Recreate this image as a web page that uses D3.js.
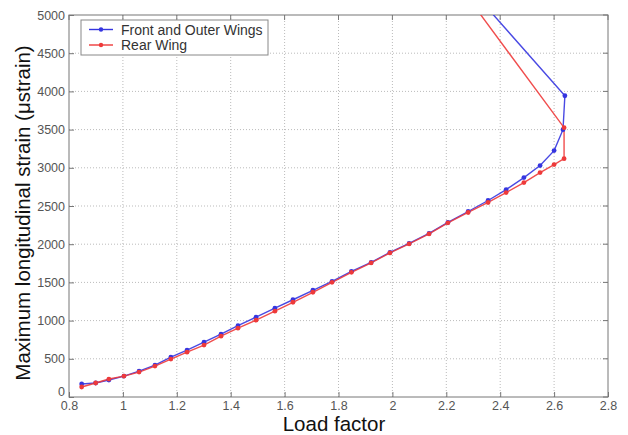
<!DOCTYPE html>
<html>
<head>
<meta charset="utf-8">
<script src="https://cdn.jsdelivr.net/npm/d3@7"></script>
<style>
  html, body { margin: 0; padding: 0; background: #fff; }
  svg { display: block; }
</style>
</head>
<body>
<svg id="chart" width="628" height="435"></svg>
<script>
const seriesNames = ["Front and Outer Wings", "Rear Wing"];
const seriesColors = ["#3535e0", "#ee3a3a"];

const frontX = [0.847, 0.899, 0.948, 1.004, 1.060, 1.119, 1.178, 1.238, 1.301, 1.364,
  1.427, 1.494, 1.564, 1.631, 1.705, 1.776, 1.848, 1.921, 1.991, 2.062,
  2.136, 2.206, 2.281, 2.355, 2.422, 2.488, 2.548, 2.600, 2.633, 2.640, 2.200];
const frontY = [170, 183, 222, 274, 339, 418, 522, 614, 718, 822,
  933, 1044, 1162, 1273, 1397, 1514, 1645, 1762, 1893, 2010,
  2141, 2285, 2428, 2572, 2715, 2872, 3029, 3225, 3499, 3943, 5700];

const rearX = [0.847, 0.899, 0.948, 1.004, 1.060, 1.119, 1.178, 1.238, 1.301, 1.364,
  1.427, 1.494, 1.564, 1.631, 1.705, 1.776, 1.848, 1.921, 1.991, 2.062,
  2.136, 2.206, 2.281, 2.355, 2.422, 2.488, 2.548, 2.600, 2.637, 2.637, 2.200];
const rearY = [131, 183, 235, 274, 326, 405, 496, 587, 679, 796,
  901, 1005, 1123, 1240, 1371, 1501, 1632, 1755, 1886, 2004,
  2134, 2280, 2415, 2546, 2676, 2807, 2937, 3042, 3120, 3525, 5613];

const xTicks = [0.8, 1, 1.2, 1.4, 1.6, 1.8, 2, 2.2, 2.4, 2.6, 2.8];
const yTicks = [0, 500, 1000, 1500, 2000, 2500, 3000, 3500, 4000, 4500, 5000];
const xLabel = "Load factor";
const yLabel = "Maximum longitudinal strain (\u03bcstrain)";

const svg = d3.select("#chart");
const L = 69, R = 608, T = 15, B = 397;
const x = d3.scaleLinear().domain([0.8, 2.8]).range([L, R]);
const y = d3.scaleLinear().domain([0, 5000]).range([B, T]);

// grid
const grid = svg.append("g");
grid.selectAll(".gx").data(xTicks.slice(1, -1)).enter().append("line")
  .attr("x1", d => x(d)).attr("x2", d => x(d)).attr("y1", T).attr("y2", B)
  .attr("stroke", "#bbb").attr("stroke-width", 1).attr("stroke-dasharray", "1,2");
grid.selectAll(".gy").data(yTicks.slice(1, -1)).enter().append("line")
  .attr("y1", d => y(d)).attr("y2", d => y(d)).attr("x1", L).attr("x2", R)
  .attr("stroke", "#bbb").attr("stroke-width", 1).attr("stroke-dasharray", "1,2");

// axes
const tickFont = "Liberation Sans, Arial, sans-serif";
const xAxis = svg.append("g").attr("transform", `translate(0,${B})`)
  .call(d3.axisBottom(x).tickValues(xTicks).tickSize(-5).tickPadding(4).tickFormat(d3.format("")));
const yAxis = svg.append("g").attr("transform", `translate(${L},0)`)
  .call(d3.axisLeft(y).tickValues(yTicks).tickSize(-5).tickPadding(4).tickFormat(d3.format("")));
[xAxis, yAxis].forEach(a => {
  a.select(".domain").remove();
  a.selectAll(".tick line").attr("stroke", "#777");
  a.selectAll(".tick text").attr("fill", "#555").style("font-family", tickFont).style("font-size", "12.5px");
});
yAxis.selectAll(".tick text").filter(d => d === 0).attr("dy", "-0.12em");

// top and right ticks
svg.append("g").selectAll("line").data(xTicks).enter().append("line")
  .attr("x1", d => x(d)).attr("x2", d => x(d)).attr("y1", T).attr("y2", T + 5).attr("stroke", "#777");
svg.append("g").selectAll("line").data(yTicks).enter().append("line")
  .attr("x1", R).attr("x2", R - 5).attr("y1", d => y(d)).attr("y2", d => y(d)).attr("stroke", "#777");

// frame
svg.append("rect").attr("x", L).attr("y", T).attr("width", R - L).attr("height", B - T)
  .attr("fill", "none").attr("stroke", "#777").attr("stroke-width", 1);

// clip
svg.append("clipPath").attr("id", "clip").append("rect")
  .attr("x", L).attr("y", T).attr("width", R - L).attr("height", B - T);

const series = [
  { xs: frontX, ys: frontY, color: seriesColors[0] },
  { xs: rearX, ys: rearY, color: seriesColors[1] }
];
const line = d3.line().x(d => x(d[0])).y(d => y(d[1]));
const plot = svg.append("g").attr("clip-path", "url(#clip)");
series.forEach(s => {
  const pts = s.xs.map((v, i) => [v, s.ys[i]]);
  plot.append("path").datum(pts).attr("d", line)
    .attr("fill", "none").attr("stroke", s.color).attr("stroke-width", 1.4).attr("opacity", 0.9);
});
series.forEach(s => {
  const pts = s.xs.map((v, i) => [v, s.ys[i]]);
  plot.selectAll(null).data(pts.filter(p => p[1] <= 5000)).enter().append("circle")
    .attr("cx", d => x(d[0])).attr("cy", d => y(d[1])).attr("r", 2.4)
    .attr("fill", s.color);
});

// legend
const lg = svg.append("g");
lg.append("rect").attr("x", 81).attr("y", 20).attr("width", 187).attr("height", 35)
  .attr("fill", "#fff").attr("stroke", "#888").attr("stroke-width", 1);
seriesNames.forEach((n, i) => {
  const yy = 29.5 + i * 15.5;
  lg.append("line").attr("x1", 89).attr("x2", 113).attr("y1", yy).attr("y2", yy)
    .attr("stroke", seriesColors[i]).attr("stroke-width", 1.4);
  lg.append("circle").attr("cx", 101).attr("cy", yy).attr("r", 2.2).attr("fill", seriesColors[i]);
  lg.append("text").attr("x", 121).attr("y", yy + 5).text(n)
    .attr("fill", "#333").style("font-family", tickFont).style("font-size", "14px");
});

// axis labels
svg.append("text").attr("x", 334).attr("y", 431).attr("text-anchor", "middle")
  .text(xLabel).attr("fill", "#111").style("font-family", tickFont).style("font-size", "20.5px");
svg.append("text").attr("transform", `translate(30,${(T + B) / 2 + 7}) rotate(-90)`)
  .attr("text-anchor", "middle").text(yLabel)
  .attr("fill", "#111").style("font-family", tickFont).style("font-size", "20.5px");
</script>
</body>
</html>
